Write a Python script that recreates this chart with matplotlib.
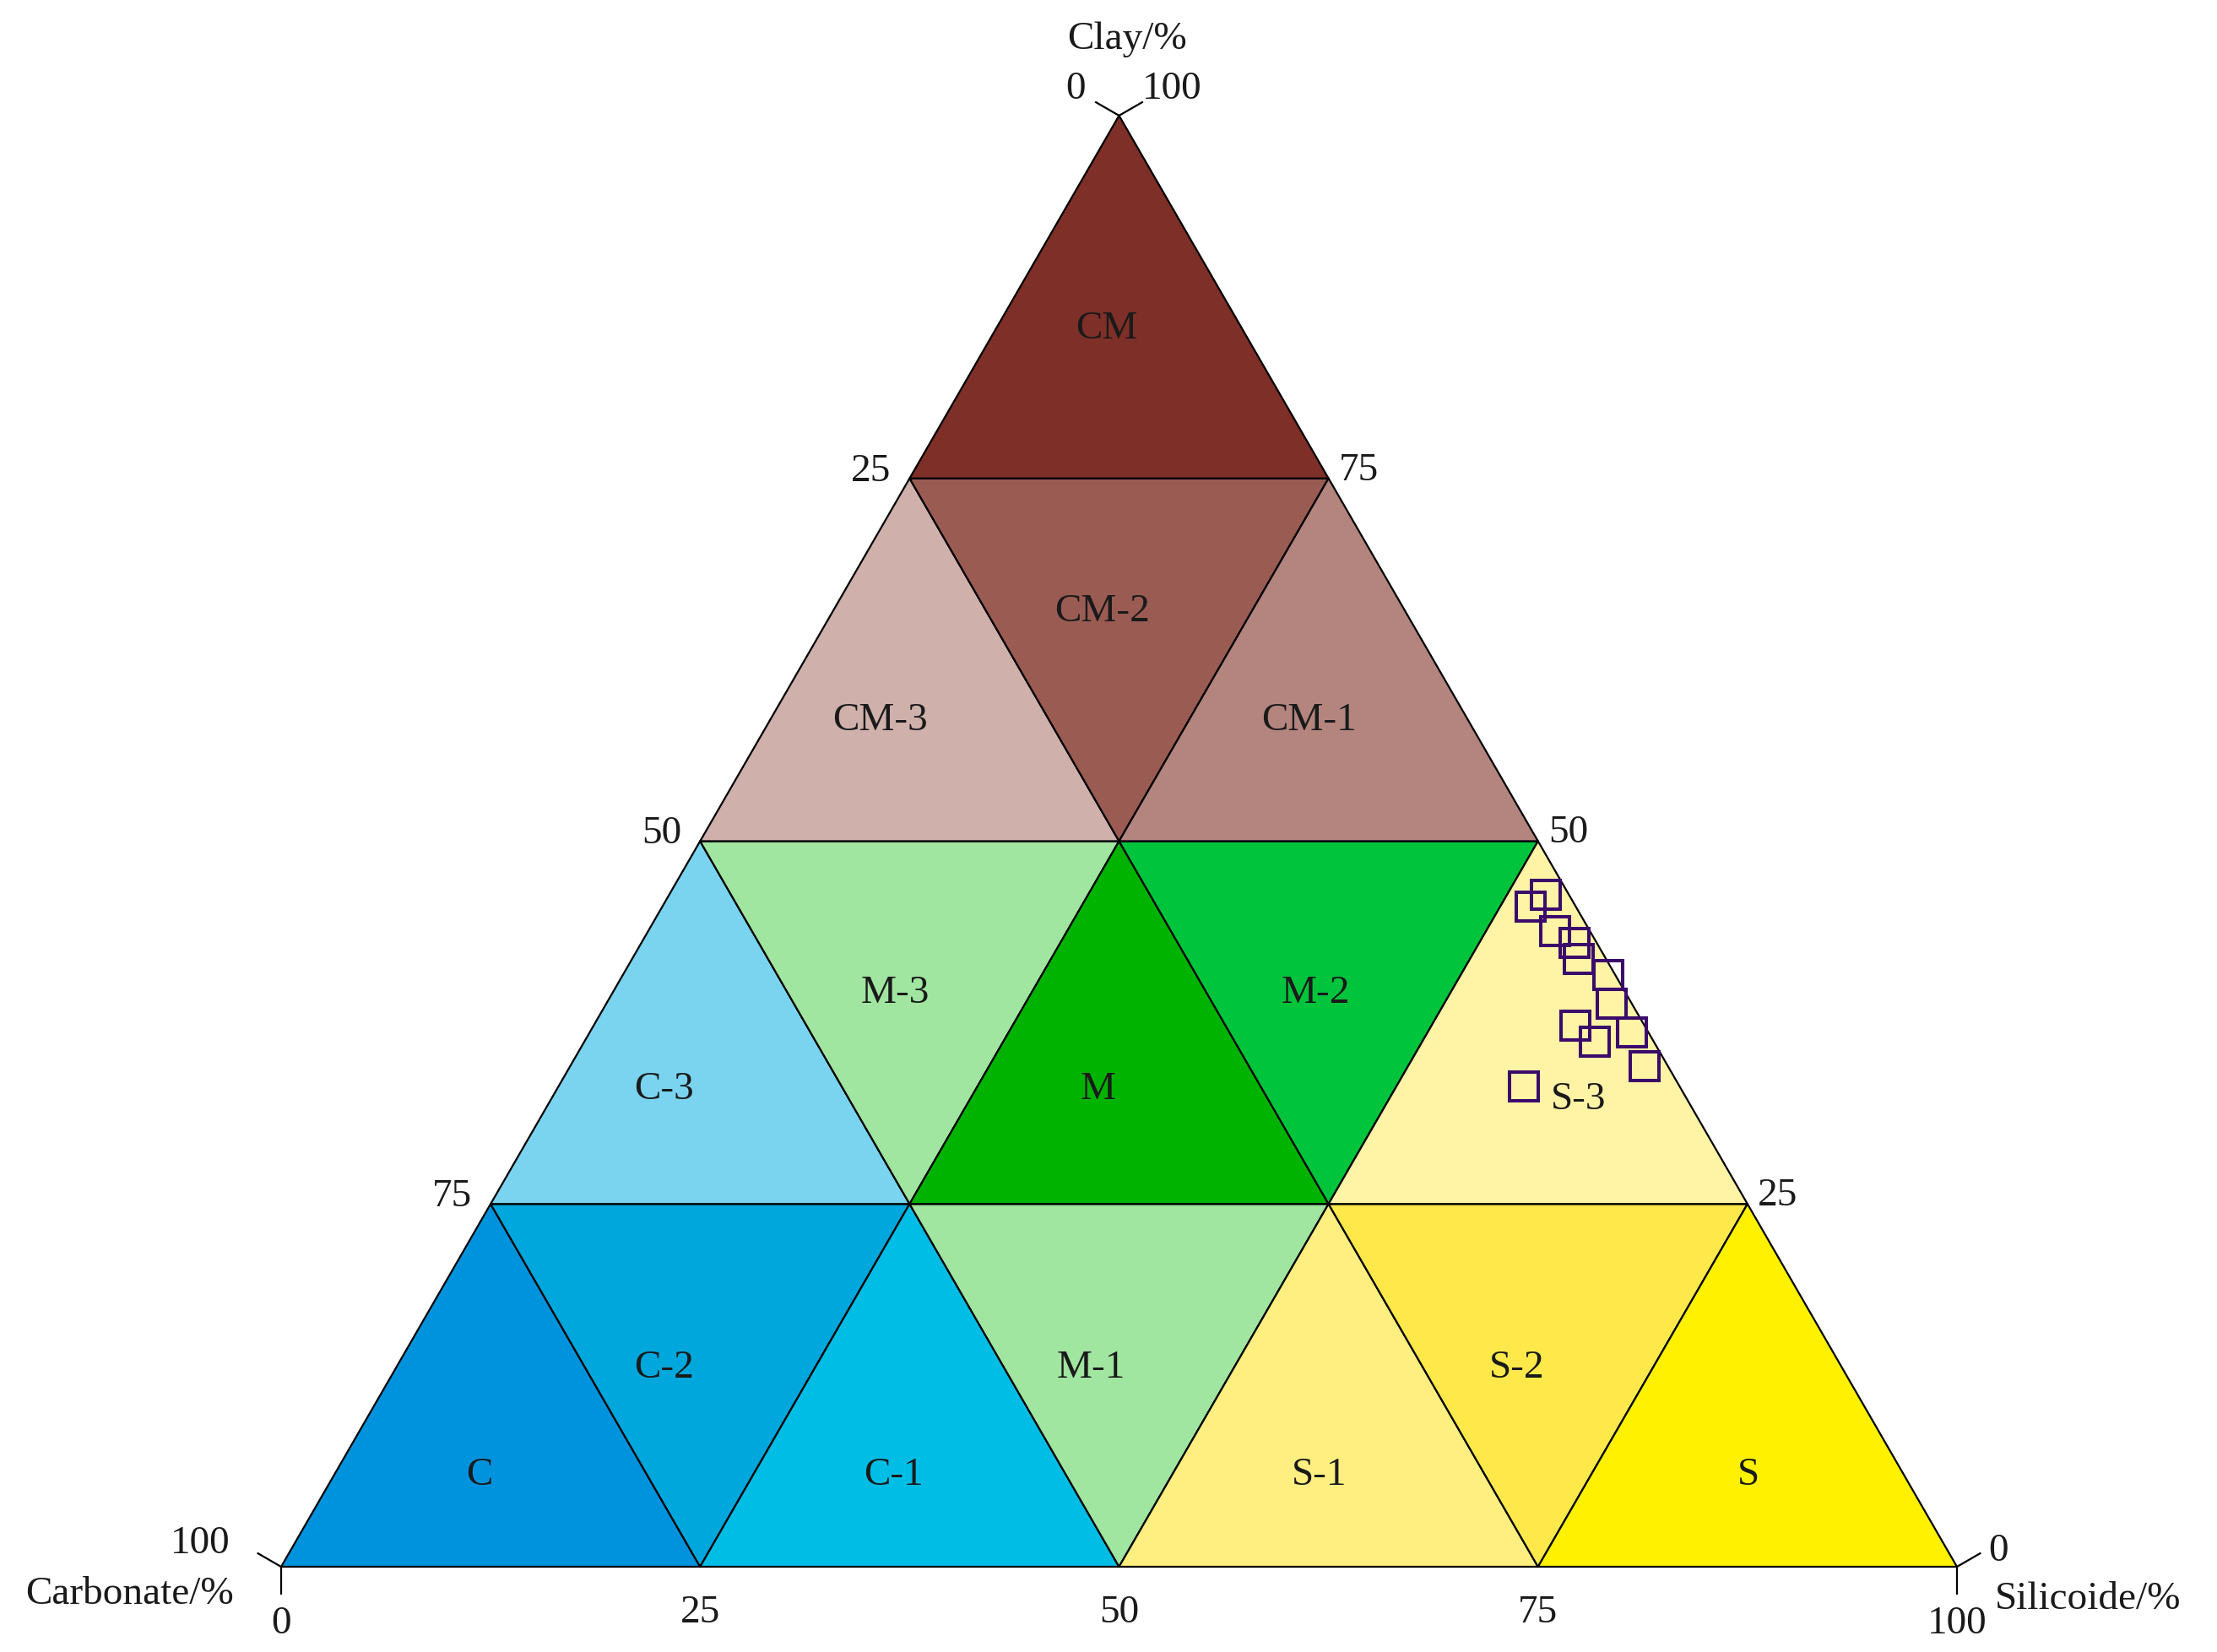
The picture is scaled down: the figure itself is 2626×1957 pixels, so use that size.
import numpy as np
import matplotlib.pyplot as plt
from matplotlib.patches import Polygon

plt.rcParams['font.family'] = ['Liberation Serif', 'DejaVu Serif']

# Clases del diagrama ternario, por filas desde la base (rejilla de 25 %)
step = 25
rows = [
    ['C', 'C-2', 'C-1', 'M-1', 'S-1', 'S-2', 'S'],
    ['C-3', 'M-3', 'M', 'M-2', 'S-3'],
    ['CM-3', 'CM-2', 'CM-1'],
    ['CM'],
]
colors = {
    'CM': '#7E2F27', 'CM-2': '#9A5B53', 'CM-3': '#CFB0AA', 'CM-1': '#B3857E',
    'C-3': '#7AD4EF', 'M-3': '#A0E5A0', 'M': '#00B300', 'M-2': '#00C43C',
    'S-3': '#FFF3A6', 'C': '#0093DD', 'C-2': '#00A7DC', 'C-1': '#00BDE6',
    'M-1': '#A0E5A0', 'S-1': '#FFEE80', 'S-2': '#FFE94A', 'S': '#FFF100',
}
# posición de las etiquetas de cada clase (silicoide %, arcilla %)
label_pos = {
    'CM': (6.6, 85.3), 'CM-2': (16.1, 65.8), 'CM-3': (6.6, 58.3), 'CM-1': (32.2, 58.3),
    'C-3': (6.4, 32.9), 'M-3': (16.9, 39.5), 'M': (32.3, 32.9), 'M-2': (42.0, 39.5),
    'S-3': (61.3, 32.2), 'C': (8.7, 6.3), 'C-2': (16.0, 13.7), 'C-1': (33.4, 6.3),
    'M-1': (41.5, 13.7), 'S-1': (58.8, 6.3), 'S-2': (66.9, 13.7), 'S': (84.4, 6.3),
}

# Muestras (%)
clay = [46.3, 45.5, 43.8, 43.0, 41.9, 40.8, 38.8, 37.3, 36.2, 36.8, 34.5, 33.1]
silicoide = [52.3, 51.8, 54.1, 55.7, 56.5, 58.8, 60.0, 58.6, 60.3, 62.2, 64.1, 57.6]
carbonate = [100 - c - s for c, s in zip(clay, silicoide)]

tick_values = [0, 25, 50, 75, 100]


def tern(sil, cl):
    # silicoide y arcilla (%) -> coordenadas cartesianas (lado = 1)
    sil = np.asarray(sil, dtype=float) / 100
    cl = np.asarray(cl, dtype=float) / 100
    return sil + cl / 2, cl * np.sqrt(3) / 2


fig = plt.figure(figsize=(26.26, 19.57), dpi=100)
ax = fig.add_axes([0, 0, 1, 1])
ax.set_xlim(-333 / 1985, (2626 - 333) / 1985)
ax.set_ylim((1856 - 1957) / 1985, 1856 / 1985)
ax.axis('off')

# Celdas de la clasificación
for j, row in enumerate(rows):
    for k, name in enumerate(row):
        i = k // 2
        if k % 2 == 0:
            pts = [(i, j), (i + 1, j), (i, j + 1)]
        else:
            pts = [(i + 1, j), (i + 1, j + 1), (i, j + 1)]
        xs, ys = tern([p[0] * step for p in pts], [p[1] * step for p in pts])
        ax.add_patch(Polygon(np.column_stack([xs, ys]), closed=True,
                             facecolor=colors[name], edgecolor='black',
                             linewidth=1.6, joinstyle='round'))
        lx, ly = tern(*label_pos[name])
        ax.text(lx, ly, name, fontsize=34, ha='center', va='center', color='#1a1a1a')

# Marcas en los vértices
tick_len = 0.0165
d_left = np.array([-np.cos(np.pi / 6), np.sin(np.pi / 6)])
d_right = np.array([np.cos(np.pi / 6), np.sin(np.pi / 6)])
d_down = np.array([0, -1])
for (s, c), dirs in [((0, 100), [d_left, d_right]),
                     ((0, 0), [d_left, d_down]),
                     ((100, 0), [d_right, d_down])]:
    vx, vy = tern(s, c)
    for d in dirs:
        ax.plot([vx, vx + tick_len * d[0]], [vy, vy + tick_len * d[1]],
                color='black', lw=1.6, solid_capstyle='butt')

tkw = dict(fontsize=34, textcoords='offset pixels', color='#1a1a1a')

# Eje de carbonato (lado izquierdo, 0 arriba)
for v in tick_values:
    x, y = tern(0, 100 - v)
    if v == 0:
        off, ha = (-40, 20), 'right'
    elif v == 100:
        off, ha = (-61, 16), 'right'
    else:
        off, ha = (-22, -3), 'right'
    ax.annotate(str(v), (x, y), xytext=off, ha=ha, va='baseline', **tkw)

# Eje de arcilla (lado derecho, 100 arriba)
for v in tick_values:
    x, y = tern(100 - v, v)
    if v == 100:
        off = (27, 20)
    elif v == 0:
        off = (37, 7)
    else:
        off = (12, -2)
    ax.annotate(str(v), (x, y), xytext=off, ha='left', va='baseline', **tkw)

# Eje de silicoide (base)
for v in tick_values:
    x, y = tern(v, 0)
    off = (0, -79) if v in (0, 100) else (0, -66)
    ax.annotate(str(v), (x, y), xytext=off, ha='center', va='baseline', **tkw)

# Títulos de los ejes
x, y = tern(0, 100)
ax.annotate('Clay/%', (x, y), xytext=(10, 79), ha='center', va='baseline', **tkw)
x, y = tern(0, 0)
ax.annotate('Carbonate/%', (x, y), xytext=(-56, -44), ha='right', va='baseline', **tkw)
x, y = tern(100, 0)
ax.annotate('Silicoide/%', (x, y), xytext=(45, -50), ha='left', va='baseline', **tkw)

# Muestras
px, py = tern(silicoide, clay)
ax.plot(px, py, 's', markersize=24, markerfacecolor='none',
        markeredgecolor='#3B0B6B', markeredgewidth=2.9, linestyle='none')

fig.savefig('out.png', dpi=100)
